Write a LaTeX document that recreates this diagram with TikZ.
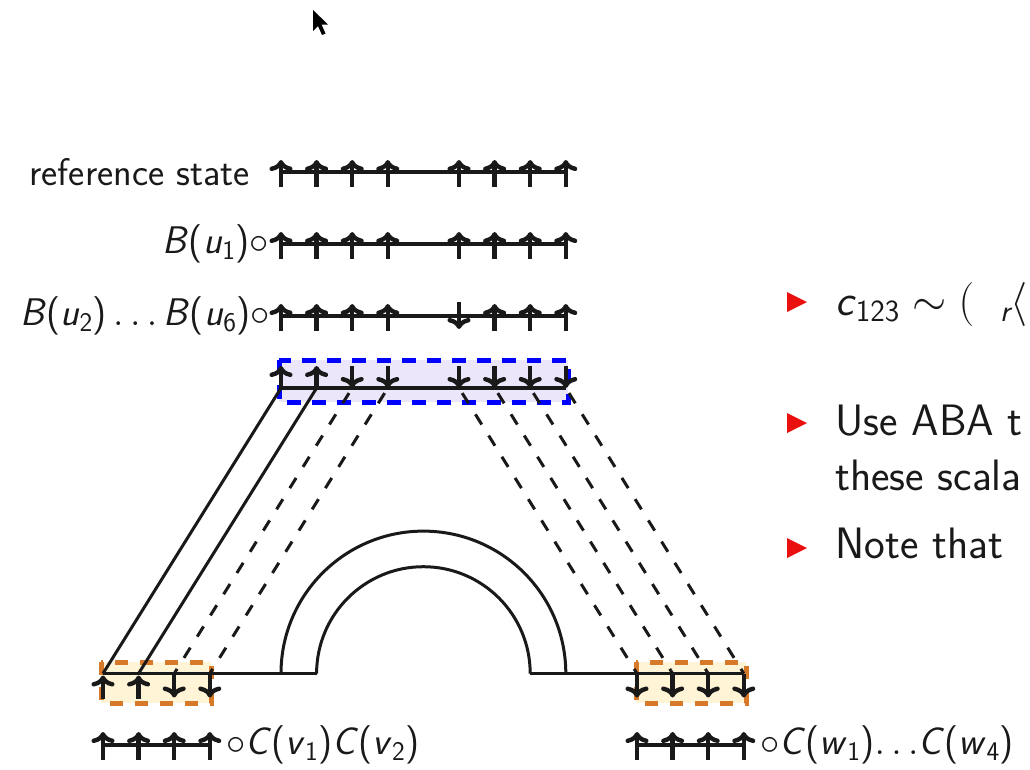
\RequirePackage{fix-cm}
\documentclass[tikz,border=0pt]{standalone}
\usepackage{amsmath}
\usetikzlibrary{arrows.meta,calc}
\definecolor{boxblue}{RGB}{0,0,255}
\definecolor{fillblue}{RGB}{236,230,250}
\definecolor{boxorange}{RGB}{214,122,42}
\definecolor{fillorange}{RGB}{255,244,214}
\definecolor{bulletred}{RGB}{235,16,16}
\definecolor{ink}{RGB}{25,25,25}
\begin{document}
\begin{tikzpicture}[x=1pt,y=-1pt,
  chainline/.style={line width=3.6pt,ink},
  spinarrow/.style={line width=4.4pt,ink,-{Computer Modern Rightarrow[length=11pt,width=23pt]}},
  solidlink/.style={line width=3pt,ink},
  dashlink/.style={line width=3pt,ink,dash pattern=on 12pt off 13pt,dash phase=-6pt},
  archline/.style={line width=3pt,ink},
  bluebox/.style={fill=fillblue,draw=boxblue,line width=5pt,dash pattern=on 14pt off 11pt},
  orangebox/.style={fill=fillorange,draw=boxorange,line width=5pt,dash pattern=on 13pt off 12pt},
  leftlabel/.style={inner sep=0pt,ink,font=\fontsize{38.5}{46}\selectfont\sffamily},
  itemtext/.style={inner sep=0pt,anchor=base west,ink,font=\fontsize{44}{53}\selectfont\sffamily},
  bullet/.style={fill=bulletred}
]
\path[use as bounding box] (0,0) rectangle (1030,769);
\clip (0,0) rectangle (1030,769);

% cursor
\fill[black] (313,10) -- (313,31) -- (318,26) -- (322,35) -- (325.5,33.5) -- (321.5,24.5) -- (328,24.5) -- cycle;

\def\c{423.4}
\def\s{35.6}

% boxes
\path[bluebox] (279,360) rectangle (568,402);
\path[orangebox] (101,662) rectangle (211,703);
\path[orangebox] (636,662) rectangle (746,703);

% top rows
\foreach \y in {172,244,316}{
  \draw[chainline] (\c-4*\s,\y) -- (\c+4*\s,\y);
}
\foreach \k in {-4,-3,-2,-1,1,2,3,4}{
  \draw[spinarrow] (\c+\k*\s,187) -- (\c+\k*\s,160);
  \draw[spinarrow] (\c+\k*\s,259) -- (\c+\k*\s,232);
}
\foreach \k in {-4,-3,-2,-1,2,3,4}{
  \draw[spinarrow] (\c+\k*\s,331) -- (\c+\k*\s,304);
}
\draw[spinarrow] (\c+\s,302) -- (\c+\s,329);

% blue row
\foreach \k in {-4,-3,-2,-1,1,2,3,4}{
  \coordinate (t\k) at (\c+\k*\s,388);
}
\draw[chainline] (t-4) -- (t4);
\foreach \k in {-4,-3}{ \draw[spinarrow] (t\k) -- ++(0,-22); }
\foreach \k in {-2,-1,1,2,3,4}{ \draw[spinarrow] ($(t\k)+(0,-22)$) -- (t\k); }

% bottom chain with arch
\foreach \k in {-9,-8,-7,-6,6,7,8,9}{
  \coordinate (b\k) at (\c+\k*\s,673.5);
}
\draw[chainline] (b-9) -- (\c-3*\s,673.5);
\draw[chainline] (\c+3*\s,673.5) -- (b9);
\draw[archline] (\c-3*\s,673.5) arc[start angle=180,end angle=360,radius=3*\s];
\draw[archline] (\c-4*\s,673.5) arc[start angle=180,end angle=360,radius=4*\s];

\foreach \k in {-9,-8}{ \draw[spinarrow] ($(b\k)+(0,25)$) -- ($(b\k)+(0,2)$); }
\foreach \k in {-7,-6,6,7,8,9}{ \draw[spinarrow] (b\k) -- ++(0,24); }

% connectors
\draw[solidlink] (t-4) -- (b-9);
\draw[solidlink] (t-3) -- (b-8);
\draw[dashlink] (t-2) -- (b-7);
\draw[dashlink] (t-1) -- (b-6);
\draw[dashlink] (t1) -- (b6);
\draw[dashlink] (t2) -- (b7);
\draw[dashlink] (t3) -- (b8);
\draw[dashlink] (t4) -- (b9);

% bottom reference rows
\draw[chainline] (\c-9*\s,745) -- (\c-6*\s,745);
\draw[chainline] (\c+6*\s,745) -- (\c+9*\s,745);
\foreach \k in {-9,-8,-7,-6,6,7,8,9}{
  \draw[spinarrow] (\c+\k*\s,760) -- (\c+\k*\s,732);
}

% labels
\node[leftlabel,anchor=base east] (lref) at (250,185) {reference state};
\node[leftlabel,anchor=east] (lbone) at (269,244) {\textit{B}(\textit{u}$_{\text{1}}$)$\circ$};
\node[leftlabel,anchor=east] (lbtwo) at (270,316) {\textit{B}(\textit{u}$_{\text{2}}$)$\,\ldots\,$\textit{B}(\textit{u}$_{\text{6}}$)$\circ$};
\node[leftlabel,anchor=west] (lcv) at (226,745) {$\circ$\textit{C}(\textit{v}$_{\text{1}}$)\textit{C}(\textit{v}$_{\text{2}}$)};
\node[leftlabel,anchor=west] (lcw) at (760,745) {$\circ$\textit{C}(\textit{w}$_{\text{1}}$)$\ldots$\textit{C}(\textit{w}$_{\text{4}}$)};

% right items
\fill[bullet] (787,292) -- (807,302) -- (787,312) -- cycle;
\fill[bullet] (787,413) -- (807,423) -- (787,433) -- cycle;
\fill[bullet] (787,538) -- (807,548) -- (787,558) -- cycle;
\node[itemtext] (ione) at (835,315) {\textit{c}$_{\text{123}}\sim($\; ${}_{\textit{r}}\langle$};
\node[itemtext] (itwo) at (835,435) {Use ABA t};
\node[itemtext] (itwob) at (835,490) {these scala};
\node[itemtext] (ithree) at (835,558) {Note that};
\end{tikzpicture}
\end{document}
